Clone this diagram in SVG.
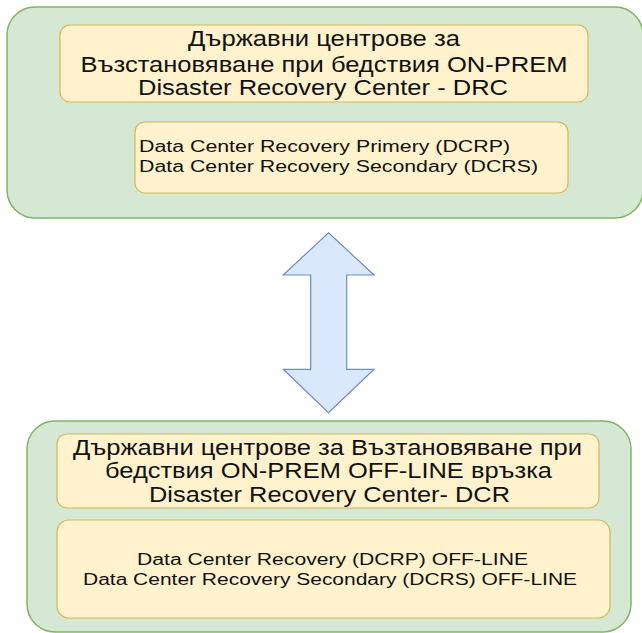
<svg xmlns="http://www.w3.org/2000/svg" width="642" height="633" viewBox="0 0 642 633">
  <style>
    .zone { fill: #d5e8d4; stroke: #82b366; stroke-width: 1.5; }
    .card { fill: #fff2cc; stroke: #d6b656; stroke-width: 1.2; }
    .big { font-family: "Liberation Sans", Arial, sans-serif; font-size: 22px; fill: #111; text-anchor: middle; }
    .small { font-family: "Liberation Sans", Arial, sans-serif; font-size: 16px; fill: #111; }
    .mid { text-anchor: middle; }
    .link { fill: #dae8fc; stroke: #6c8ebf; stroke-width: 1.2; stroke-linejoin: miter; }
  </style>

  <!-- On-premise disaster recovery centre -->
  <g id="drc-online">
    <rect class="zone" x="7" y="7" width="636" height="211" rx="28"/>
    <g id="drc-online-title">
      <rect class="card" x="60" y="25" width="528" height="77" rx="10"/>
      <text class="big" x="324" y="46" textLength="272" lengthAdjust="spacingAndGlyphs">Държавни центрове за</text>
      <text class="big" x="324" y="71.5" textLength="487" lengthAdjust="spacingAndGlyphs">Възстановяване при бедствия ON-PREM</text>
      <text class="big" x="323" y="95" textLength="370" lengthAdjust="spacingAndGlyphs">Disaster Recovery Center - DRC</text>
    </g>
    <g id="drc-online-sites">
      <rect class="card" x="135" y="122" width="433" height="71" rx="10"/>
      <text class="small" x="139" y="152.3" textLength="371" lengthAdjust="spacingAndGlyphs">Data Center Recovery Primery (DCRP)</text>
      <text class="small" x="139" y="171.7" textLength="399" lengthAdjust="spacingAndGlyphs">Data Center Recovery Secondary (DCRS)</text>
    </g>
  </g>

  <!-- Off-line disaster recovery centre -->
  <g id="drc-offline">
    <rect class="zone" x="27" y="421" width="604" height="211" rx="28"/>
    <g id="drc-offline-title">
      <rect class="card" x="57" y="434" width="542" height="74" rx="10"/>
      <text class="big" x="327.5" y="455" textLength="509" lengthAdjust="spacingAndGlyphs">Държавни центрове за Възтановяване при</text>
      <text class="big" x="328.5" y="478" textLength="447" lengthAdjust="spacingAndGlyphs">бедствия ON-PREM OFF-LINE връзка</text>
      <text class="big" x="329.5" y="501.7" textLength="361" lengthAdjust="spacingAndGlyphs">Disaster Recovery Center- DCR</text>
    </g>
    <g id="drc-offline-sites">
      <rect class="card" x="57" y="520" width="553" height="98" rx="12"/>
      <text class="small mid" x="332.5" y="565" textLength="391" lengthAdjust="spacingAndGlyphs">Data Center Recovery (DCRP) OFF-LINE</text>
      <text class="small mid" x="330" y="585" textLength="494" lengthAdjust="spacingAndGlyphs">Data Center Recovery Secondary (DCRS) OFF-LINE</text>
    </g>
  </g>

  <!-- Two-way replication link -->
  <g id="connectors">
    <path class="link" d="M328.5 232.7 L374 275 L346.7 275 L346.7 369.3 L374 369.3 L328.5 412.7 L283.3 369.3 L310.7 369.3 L310.7 275 L283.3 275 Z"/>
  </g>
</svg>
